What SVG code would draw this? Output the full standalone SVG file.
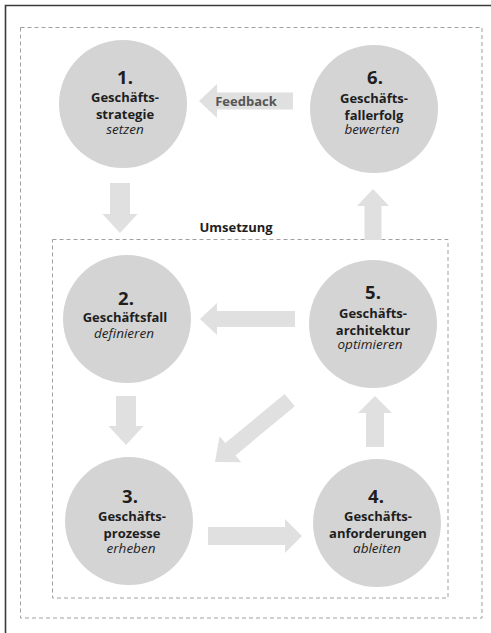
<svg xmlns="http://www.w3.org/2000/svg" width="491" height="633" viewBox="0 0 491 633">
<style>
.circ{fill:#d4d4d4}
.arr{fill:#e0e0e0}
.num{font-family:"Open Sans","Noto Sans",sans-serif;font-weight:bold;font-size:18.5px;fill:#1e1e1e;text-anchor:middle}
.b{font-family:"Open Sans","Noto Sans",sans-serif;font-weight:bold;font-size:13px;fill:#1e1e1e;text-anchor:middle}
.i{font-family:"Open Sans","Noto Sans",sans-serif;font-style:italic;font-size:13.5px;fill:#1e1e1e;text-anchor:middle}
.dash{fill:none;stroke:#a0a0a0;stroke-width:1;stroke-dasharray:4 3}
.lbl{font-family:"Open Sans","Noto Sans",sans-serif;font-weight:bold;font-size:13px;text-anchor:middle}
</style>
<rect width="491" height="633" fill="#ffffff"/>
<path d="M5.5 633 V5.5 H491" fill="none" stroke="#3a3a3a" stroke-width="1.6"/>
<rect class="dash" x="20.5" y="27.5" width="461.5" height="590.5"/>
<rect class="dash" x="52.5" y="239.5" width="395.5" height="358.5"/>
<text class="lbl" x="236" y="232" fill="#1e1e1e">Umsetzung</text>

<g id="connectors">
  <!-- generic arrow: tip at origin pointing +x -->
  <polygon id="a-feedback" class="arr" transform="translate(199,101) rotate(180)" points="-94,-8.5 -18,-8.5 -18,-17 0,0 -18,17 -18,8.5 -94,8.5"/>
  <polygon id="a-1-2" class="arr" transform="translate(120,233) rotate(90)" points="-50,-10 -19,-10 -19,-17.5 0,0 -19,17.5 -19,10 -50,10"/>
  <polygon id="a-2-3" class="arr" transform="translate(126,445) rotate(90)" points="-49,-10 -19,-10 -19,-17.5 0,0 -19,17.5 -19,10 -49,10"/>
  <polygon id="a-3-4" class="arr" transform="translate(302,536) rotate(0)" points="-94,-9 -17,-9 -17,-17 0,0 -17,17 -17,9 -94,9"/>
  <polygon id="a-4-5" class="arr" transform="translate(375,396) rotate(-90)" points="-51,-9 -17,-9 -17,-17 0,0 -17,17 -17,9 -51,9"/>
  <polygon id="a-5-6" class="arr" transform="translate(373,189) rotate(-90)" points="-51,-8.5 -17,-8.5 -17,-16 0,0 -17,16 -17,8.5 -51,8.5"/>
  <polygon id="a-5-2" class="arr" transform="translate(200,319) rotate(180)" points="-95,-8 -17,-8 -17,-16 0,0 -17,16 -17,8 -95,8"/>
  <polygon id="a-5-3" class="arr" transform="translate(215,462) rotate(140.4)" points="-97,-8 -20,-8 -20,-17 0,0 -20,17 -20,8 -97,8"/>
  <text class="lbl" x="246" y="106" fill="#555555">Feedback</text>
</g>

<g id="node1">
  <circle class="circ" cx="123" cy="104" r="64"/>
  <text class="num" x="125" y="84">1.</text>
  <text class="b" x="125" y="102">Geschäfts-</text>
  <text class="b" x="125" y="119">strategie</text>
  <text class="i" x="125" y="134">setzen</text>
</g>
<g id="node6">
  <circle class="circ" cx="374" cy="109" r="64"/>
  <text class="num" x="375" y="84">6.</text>
  <text class="b" x="374" y="103">Geschäfts-</text>
  <text class="b" x="374" y="120">fallerfolg</text>
  <text class="i" x="372" y="134">bewerten</text>
</g>
<g id="node2">
  <circle class="circ" cx="127" cy="319" r="64"/>
  <text class="num" x="126" y="305">2.</text>
  <text class="b" x="125" y="322">Geschäftsfall</text>
  <text class="i" x="124" y="338">definieren</text>
</g>
<g id="node5">
  <circle class="circ" cx="373" cy="324" r="64"/>
  <text class="num" x="373" y="299">5.</text>
  <text class="b" x="373" y="318">Geschäfts-</text>
  <text class="b" x="373" y="335">architektur</text>
  <text class="i" x="370" y="349">optimieren</text>
</g>
<g id="node3">
  <circle class="circ" cx="129" cy="521" r="64"/>
  <text class="num" x="130" y="503">3.</text>
  <text class="b" x="132" y="521">Geschäfts-</text>
  <text class="b" x="132" y="538">prozesse</text>
  <text class="i" x="131" y="553">erheben</text>
</g>
<g id="node4">
  <circle class="circ" cx="377" cy="523" r="64"/>
  <text class="num" x="376" y="503">4.</text>
  <text class="b" x="378" y="521">Geschäfts-</text>
  <text class="b" x="378" y="538">anforderungen</text>
  <text class="i" x="377" y="553">ableiten</text>
</g>
</svg>
